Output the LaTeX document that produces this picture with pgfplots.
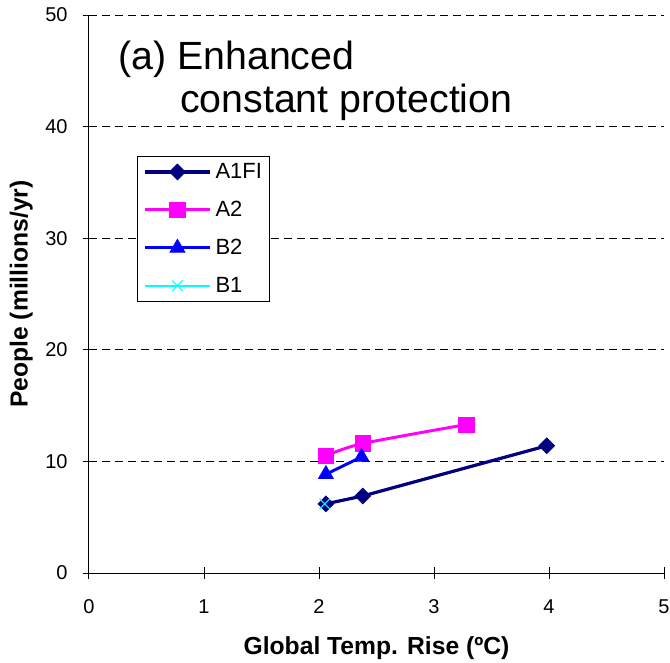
\documentclass[border=0pt]{standalone}
\usepackage{fontspec}
\setmainfont{Liberation Sans}
\usepackage{pgfplots}
\pgfplotsset{compat=1.18}
\definecolor{navyc}{RGB}{0,0,128}
\definecolor{magc}{RGB}{255,0,255}
\definecolor{bluec}{RGB}{0,0,255}
\definecolor{cyanc}{RGB}{0,255,255}
\begin{document}
\begin{tikzpicture}
\begin{axis}[
  at={(0,0)}, anchor=south west,
  scale only axis, width=431.25pt, height=418.5pt,
  xmin=0, xmax=5, ymin=0, ymax=50,
  xtick={0,1,2,3,4,5}, ytick={0,10,20,30,40,50},
  axis lines*=left,
  axis line style={line width=0.75pt},
  tick style={black, line width=0.75pt},
  tick align=center, major tick length=9pt,
  ymajorgrids,
  grid style={black, line width=0.75pt, dash pattern=on 6pt off 3.75pt},
  /pgf/number format/assume math mode=true,
  tick label style={font=\fontsize{15}{18}\selectfont},
  xticklabel style={yshift=-12pt},
  yticklabel style={xshift=-8pt},
  xlabel={Global Temp. Rise (ºC)},
  ylabel={People (millions/yr)},
  label style={font=\bfseries\fontsize{18.5}{22}\selectfont},
  xlabel style={at={(axis description cs:0.5,-0.134)}, anchor=center},
  ylabel style={at={(axis description cs:-0.118,0.5)}, anchor=center},
  legend cell align=left,
  legend style={at={(rel axis cs:0.0843,0.747)}, anchor=north west,
    draw=black, line width=0.75pt, font=\fontsize{16.5}{20}\selectfont,
    inner xsep=4pt, inner ysep=3pt, row sep=11.5pt,
    /tikz/every odd column/.append style={column sep=1pt}},
  legend image code/.code={\draw[mark repeat=2,mark phase=2,#1] plot coordinates {(0pt,0pt) (24.4pt,0pt) (48.75pt,0pt)};},
]
\addplot[navyc, line width=2.4pt, mark=square*, mark size=4.2pt,
  mark options={solid, rotate=45, fill=navyc, line width=0.5pt}]
  coordinates {(2.06,6.2) (2.38,6.9) (3.98,11.4)};
\addlegendentry{A1FI}
\addplot[magc, line width=2.2pt, smooth, mark=square*, mark size=5.8pt,
  mark options={solid, fill=magc, line width=0.5pt}]
  coordinates {(2.06,10.5) (2.38,11.6) (3.28,13.3)};
\addlegendentry{A2}
\addplot[bluec, line width=2.2pt, mark=triangle*, mark size=6.5pt,
  mark options={solid, fill=bluec, line width=0.5pt}]
  coordinates {(2.06,8.85) (2.37,10.4)};
\addlegendentry{B2}
\addplot[cyanc, line width=1.2pt, mark=x, mark size=5.5pt,
  mark options={solid, line width=0.8pt}]
  coordinates {(2.05,6.2)};
\addlegendentry{B1}
\node[anchor=base west, inner sep=0pt, font=\fontsize{29.5}{34}\selectfont]
  at (rel axis cs:0.0504,0.903) {(a) Enhanced};
\node[anchor=base west, inner sep=0pt, font=\fontsize{29.5}{34}\selectfont]
  at (rel axis cs:0.158,0.826) {constant protection};
\end{axis}
\pgfresetboundingbox
\path[use as bounding box] (-66.75pt,-66.75pt) rectangle (435.75pt,429.75pt);
\end{tikzpicture}
\end{document}
